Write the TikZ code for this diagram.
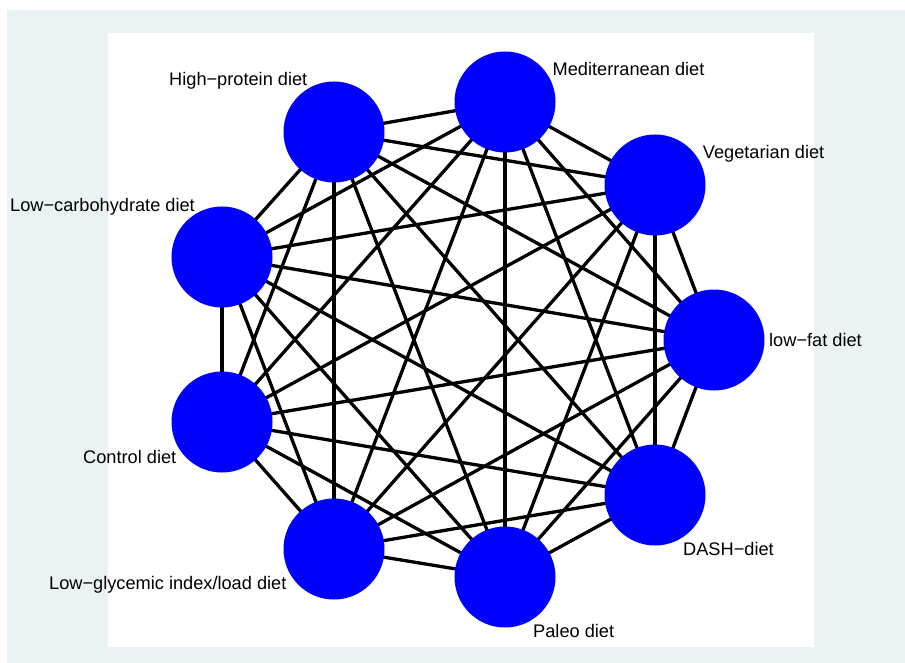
\documentclass[tikz,border=0pt]{standalone}
\usepackage{fontspec}
\setmainfont{Liberation Sans}
\definecolor{bgout}{RGB}{234,242,243}
\definecolor{nodeblue}{RGB}{0,0,255}
\begin{document}
\begin{tikzpicture}[x=1pt,y=-1pt,
  diet/.style={circle,fill=nodeblue,draw=none,minimum size=101pt,inner sep=0pt},
  lbl/.style={anchor=base west,inner sep=0pt,font=\fontsize{18.2}{20}\selectfont},
  edge/.style={line width=3.3pt,black}]
\useasboundingbox (0,0) rectangle (905,663);
\fill[white] (0,0) rectangle (905,663);
\fill[bgout] (7,10) rectangle (905,663);
\fill[white] (108,33) rectangle (814,647);
% nodes (coordinates)
\coordinate (n1) at (505,102);
\coordinate (n2) at (655,185);
\coordinate (n3) at (714,340);
\coordinate (n4) at (655,495);
\coordinate (n5) at (505,577);
\coordinate (n6) at (334,549);
\coordinate (n7) at (222,422);
\coordinate (n8) at (222,257);
\coordinate (n9) at (334,132);
% edges (complete graph)
\foreach \i in {1,...,8}{
  \pgfmathtruncatemacro{\s}{\i+1}
  \foreach \j in {\s,...,9}{
    \draw[edge] (n\i) -- (n\j);
  }
}
% circles
\foreach \k in {1,...,9}{
  \node[diet] (c\k) at (n\k) {};
}
% labels
\node[lbl] (l1) at (552.5,76) {Mediterranean diet};
\node[lbl] (l2) at (702.7,158.3) {Vegetarian diet};
\node[lbl] (l3) at (769,346.5) {low−fat diet};
\node[lbl] (l4) at (683,555) {DASH−diet};
\node[lbl] (l5) at (533,637) {Paleo diet};
\node[lbl] (l6) at (49,589) {Low−glycemic index/load diet};
\node[lbl] (l7) at (83,463) {Control diet};
\node[lbl] (l8) at (10,212) {Low−carbohydrate diet};
\node[lbl] (l9) at (169,86) {High−protein diet};
\end{tikzpicture}
\end{document}
